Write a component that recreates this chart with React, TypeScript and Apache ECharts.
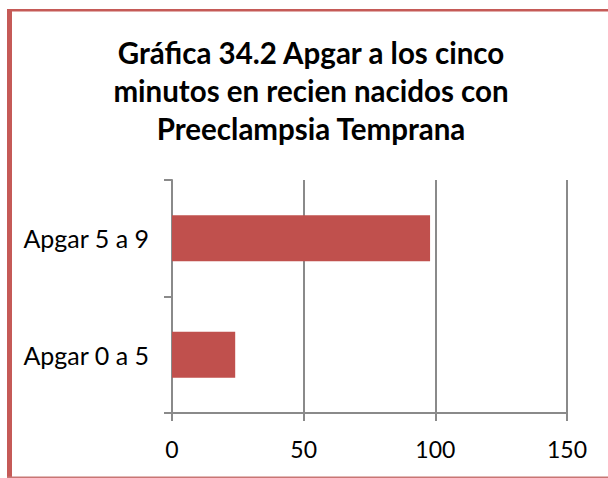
import React, { useEffect, useRef } from "react";
import * as echarts from "echarts";

const categories = ["Apgar 0 a 5", "Apgar 5 a 9"];
const values = [24, 98];
const titleLines = [
  "Gráfica 34.2 Apgar a los cinco",
  "minutos en recien nacidos con",
  "Preeclampsia Temprana",
];
const xMin = 0;
const xMax = 150;
const xInterval = 50;

export default function App() {
  const ref = useRef<HTMLDivElement>(null);
  useEffect(() => {
    if (!ref.current) return;
    const chart = echarts.init(ref.current, undefined, { renderer: "svg" });
    const font = "Lato";
    const grid = "#8a8a8a";
    const titleY = [52, 90.5, 128.5];
    chart.setOption({
      animation: false,
      backgroundColor: "#ffffff",
      grid: { left: 172, right: 41, top: 180, bottom: 65, containLabel: false },
      xAxis: {
        type: "value",
        min: xMin,
        max: xMax,
        interval: xInterval,
        axisLine: { show: true, lineStyle: { color: grid, width: 2 } },
        axisTick: { show: true, length: 8, lineStyle: { color: grid, width: 2 } },
        splitLine: { show: true, lineStyle: { color: grid, width: 2 } },
        axisLabel: { color: "#000", fontSize: 23, fontFamily: font, margin: 24 },
      },
      yAxis: {
        type: "category",
        data: categories,
        axisLine: { show: true, lineStyle: { color: grid, width: 2 } },
        axisTick: { show: true, length: 8, lineStyle: { color: grid, width: 2 } },
        axisLabel: { color: "#000", fontSize: 25, fontFamily: font, margin: 23 },
      },
      series: [
        {
          type: "bar",
          data: values,
          barWidth: 46,
          itemStyle: { color: "#C0504D" },
        },
      ],
      graphic: [
        ...titleLines.map((t, i) => ({
          type: "text",
          x: 311,
          y: titleY[i],
          style: {
            text: t,
            fill: "#000",
            font: `bold 29.5px ${font}`,
            align: "center",
            verticalAlign: "middle",
          },
        })),
        { type: "rect", shape: { x: 7, y: 9, width: 5, height: 469 }, style: { fill: "#C55A57" } },
        { type: "rect", shape: { x: 7, y: 9, width: 601, height: 2.5 }, style: { fill: "#C55A57" } },
        { type: "rect", shape: { x: 7, y: 476.5, width: 601, height: 1.5 }, style: { fill: "#C87674" } },
      ],
    });
    return () => chart.dispose();
  }, []);
  return (
    <div
      ref={ref}
      style={{ position: "fixed", left: 0, top: 0, width: 608, height: 478 }}
    />
  );
}
